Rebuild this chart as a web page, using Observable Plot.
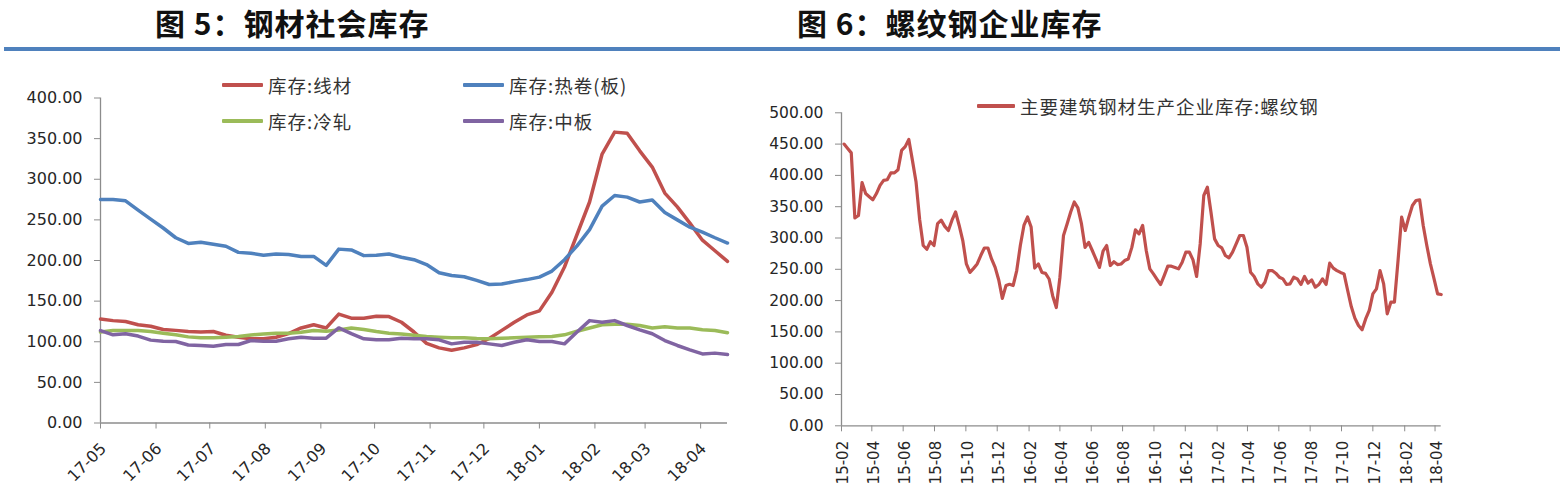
<!DOCTYPE html>
<html>
<head>
<meta charset="utf-8">
<script src="https://cdn.jsdelivr.net/npm/d3@7"></script>
<script src="https://cdn.jsdelivr.net/npm/@observablehq/plot@0.6"></script>
<style>
html,body{margin:0;padding:0;background:#fff;}
#root{position:relative;width:1566px;height:493px;overflow:hidden;background:#fff;}
.chart{position:absolute;top:0;z-index:1;}
.title{position:absolute;top:0px;z-index:2;font-family:"Noto Sans CJK SC",sans-serif;font-size:30px;font-weight:700;color:#111;line-height:44px;height:44px;letter-spacing:1px;white-space:nowrap;}
#rule{position:absolute;left:4px;width:1556px;top:47px;height:4px;background:#4F81BD;z-index:2;}
.leg{position:absolute;z-index:2;display:flex;align-items:center;font-family:"Noto Sans CJK SC",sans-serif;font-size:18.5px;color:#333;white-space:nowrap;line-height:20px;height:20px;letter-spacing:1px;}
.sw{display:inline-block;width:41px;height:4px;margin-right:5px;border-radius:1px;}
</style>
</head>
<body>
<div id="root">
  <div class="title" id="t1" style="left:155px"></div>
  <div class="title" id="t2" style="left:797px"></div>
  <div id="rule"></div>
  <div id="left" class="chart" style="left:0px"></div>
  <div id="right" class="chart" style="left:760px"></div>
</div>
<script>
// ---------- text ----------
const titles = ["图 5：钢材社会库存", "图 6：螺纹钢企业库存"];
const leftSeriesNames = ["库存:线材", "库存:热卷(板)", "库存:冷轧", "库存:中板"];
const rightSeriesName = "主要建筑钢材生产企业库存:螺纹钢";

// ---------- left chart data (weekly, from 2017-05-05) ----------
const leftStart = "2017-05-05";
const leftTickLabels = ["17-05","17-06","17-07","17-08","17-09","17-10","17-11","17-12","18-01","18-02","18-03","18-04"];
const leftYTicks = [0,50,100,150,200,250,300,350,400];
const wireRod = [128,126,125,121,119,115,114,112.6,112,112.6,108,105.6,103.6,103.6,105.6,110,117,121,117,134,129,129,131.5,131,124,112,98,92.5,89.5,92.5,96.5,104,114,124,133,138,161,192,232,272,331,358,356.5,335,315,283,266,246,225,212,199];
const hotRolled = [275,275,273.5,262,251,240,228,221,222.5,220,217.5,210,209,206.5,208,207.5,205,205,194,214,213,206,206.5,208,204,201,195,185,181.5,180,175.5,170.5,171,174,176.5,179.5,187,201,218,238,267,280,278,272,274.5,259,250,241,235,228,221.5];
const coldRolled = [112,113.8,113.8,113.8,112.5,110.5,108.5,106,105,105,105.6,106.5,108.3,109.5,110.5,110.5,111.8,113.8,113,114.5,117,115,112.5,110.5,109.5,108,106.5,105.6,105,104.9,104,103.6,104.2,104.9,105.6,106.3,106.5,108.5,113,117,121,121.6,121.6,120,117,118.5,117,117,114.7,113.8,111];
const mediumPlate = [113.8,108.5,109.8,107,102,100.5,100.3,96,95.4,94.4,96.6,96.6,101.5,100.7,100.7,103.6,105.6,104.4,104.4,117,110,103.6,102.4,102.4,104.4,103.6,103.8,102.4,97.4,99.4,99.4,97.4,95.4,99.4,102.4,100.3,100.3,97.4,112,126,124,126,120,114.7,109.8,101.5,95.4,90,85,86,84.3];

// ---------- right chart data (weekly, from 2015-02-06) ----------
const rightStart = "2015-02-06";
const rightTickLabels = ["15-02","15-04","15-06","15-08","15-10","15-12","16-02","16-04","16-06","16-08","16-10","16-12","17-02","17-04","17-06","17-08","17-10","17-12","18-02","18-04"];
const rightYTicks = [0,50,100,150,200,250,300,350,400,450,500];
const rebar = [450,443,436,332,336,388.5,371,366,361,371,384,392,393,404,404,409,440,446,457.5,424,390,330,288,282,294,288,323,328.5,318.5,312,328.5,341.5,320,296,258.5,245,251.5,258.5,272,284,284,266.5,253,233,203.5,224,226,224,248,288,320,333.5,317.5,252,258.5,245,243.5,234.5,207.5,189,237,304,322.5,341.5,357.5,348,322.5,285,293,280,266.5,253,279,288,256,262,257.5,258.5,264,266.5,285,313,306.6,320,280,250.7,242.7,234,225.7,240,255,255,253,250.7,261.4,277.3,277.3,265,238.5,290.6,367.9,381.2,341.2,298.6,288,284.3,272,268.3,277.3,290.6,304,304,285.3,245.4,238.5,226.8,221.4,229.4,248,248,243.8,237.4,234.7,225.7,226.8,237.4,234.7,225.7,238.5,227.8,233.1,221.4,225.7,234.7,225.7,259.8,251.8,248,245,242.7,216.1,190.5,172,160.2,153.3,170.8,184.2,210.8,218.8,248,226.8,178.8,197.5,197.5,264,333.3,312,333.3,351.9,359.9,361,320,288,258.7,235,210.8,209.7];

// ---------- build ----------
const weekly = (start, n) => d3.range(n).map(i => d3.utcDay.offset(new Date(start + "T00:00:00Z"), 7 * i));
const parseTick = (s, day) => new Date(Date.UTC(2000 + +s.slice(0, 2), +s.slice(3, 5) - 1, day));

const leftDates = weekly(leftStart, wireRod.length);
const leftColors = ["#C0504D", "#4F81BD", "#9BBB59", "#8064A2"];
const leftValues = [wireRod, hotRolled, coldRolled, mediumPlate];
const leftRows = leftValues.flatMap((vals, s) => vals.map((v, i) => ({date: leftDates[i], value: v, series: leftSeriesNames[s]})));
const leftTickDates = leftTickLabels.map(s => parseTick(s, 5));

const rightDates = weekly(rightStart, rebar.length);
const rightRows = rebar.map((v, i) => ({date: rightDates[i], value: v}));
const rightTickDates = rightTickLabels.map(s => parseTick(s, 1));
const rightDomain = [new Date(Date.UTC(2015, 1, 1)), rightDates[rightDates.length - 1]];

const axisGray = "#8c8c8c";
const textCol = "#262626";
const fmtY = d => d.toFixed(2);
const fmtX = d3.utcFormat("%y-%m");

const leftPlot = Plot.plot({
  width: 760, height: 493,
  marginLeft: 100, marginRight: 33, marginTop: 97.5, marginBottom: 70.5,
  x: {type: "utc", domain: [leftDates[0], leftDates[leftDates.length - 1]], label: null},
  y: {domain: [0, 400], label: null},
  style: {fontFamily: "DejaVu Sans, sans-serif", fontSize: "16px", color: textCol, background: "none", overflow: "visible"},
  marks: [
    Plot.ruleX([leftDates[0]], {y1: 0, y2: 400, stroke: axisGray, strokeWidth: 1.3}),
    Plot.ruleY([0], {stroke: axisGray, strokeWidth: 1.3}),
    Plot.axisY({ticks: leftYTicks, tickFormat: fmtY, tickSize: 6, tickPadding: 12, stroke: axisGray, fill: textCol, label: null}),
    Plot.axisX({ticks: leftTickDates, tickSize: 6, stroke: axisGray, fill: "none", tickFormat: () => "", label: null}),
    Plot.text(leftTickDates, {x: d => d, text: d => fmtX(d), frameAnchor: "bottom", rotate: -45, textAnchor: "end", lineAnchor: "middle", dx: 3, dy: 23, fill: textCol, fontSize: 16}),
    ...leftValues.map((vals, s) => Plot.line(leftRows.filter(r => r.series === leftSeriesNames[s]), {x: "date", y: "value", stroke: leftColors[s], strokeWidth: 3.5, strokeLinejoin: "round", strokeLinecap: "round"}))
  ]
});
document.getElementById("left").appendChild(leftPlot);

const rightPlot = Plot.plot({
  width: 806, height: 493,
  marginLeft: 81, marginRight: 125.3, marginTop: 112.3, marginBottom: 67.7,
  x: {type: "utc", domain: rightDomain, label: null},
  y: {domain: [0, 500], label: null},
  style: {fontFamily: "DejaVu Sans, sans-serif", fontSize: "15.5px", color: textCol, background: "none", overflow: "visible"},
  marks: [
    Plot.ruleX([rightDomain[0]], {y1: 0, y2: 500, stroke: axisGray, strokeWidth: 1.3}),
    Plot.ruleY([0], {stroke: axisGray, strokeWidth: 1.3}),
    Plot.axisY({ticks: rightYTicks, tickFormat: fmtY, tickSize: 6, tickPadding: 12, stroke: axisGray, fill: textCol, label: null}),
    Plot.axisX({ticks: rightTickDates, tickSize: 6, stroke: axisGray, fill: "none", tickFormat: () => "", label: null}),
    Plot.text(rightTickDates, {x: d => d, text: d => fmtX(d), frameAnchor: "bottom", rotate: -90, textAnchor: "end", lineAnchor: "middle", dx: 2, dy: 15, fill: textCol, fontSize: 15}),
    Plot.line(rightRows, {x: "date", y: "value", stroke: "#C0504D", strokeWidth: 3.2, strokeLinejoin: "round", strokeLinecap: "round"})
  ]
});
document.getElementById("right").appendChild(rightPlot);

// ---------- titles & legends ----------
document.getElementById("t1").textContent = titles[0];
document.getElementById("t2").textContent = titles[1];
const root = document.getElementById("root");
function legendItem(label, color, left, centerY, swW) {
  const d = document.createElement("div");
  d.className = "leg";
  d.style.left = left + "px";
  d.style.top = (centerY - 10) + "px";
  const sw = document.createElement("span");
  sw.className = "sw";
  sw.style.background = color;
  if (swW) sw.style.width = swW + "px";
  d.appendChild(sw);
  d.appendChild(document.createTextNode(label));
  root.appendChild(d);
}
const legPos = [[222, 85], [463, 85], [222, 121], [463, 121]];
leftSeriesNames.forEach((n, i) => legendItem(n, leftColors[i], legPos[i][0], legPos[i][1]));
legendItem(rightSeriesName, "#C0504D", 977, 106, 38);
</script>
</body>
</html>
